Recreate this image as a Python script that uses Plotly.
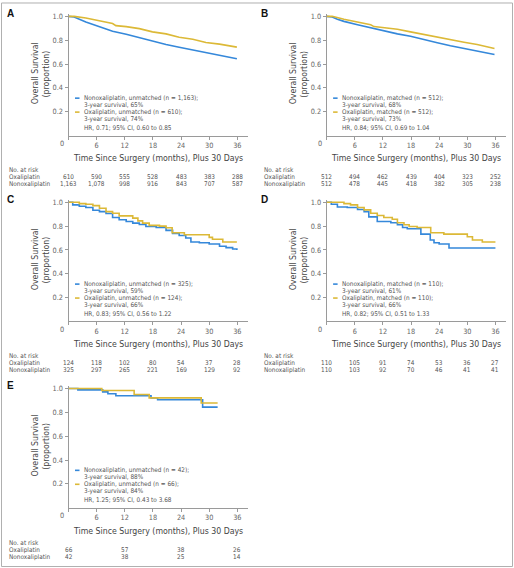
import plotly.graph_objects as go

W, H = 514, 568
NARROW = "DejaVu Sans Condensed, Liberation Sans, Arial, sans-serif"
BOLD = "Liberation Sans, Arial, sans-serif"
BLUE = "#3588da"
GOLD = "#dcb937"
AXIS_COL = "#9a9a9a"

# ---------------- data ----------------
panel_letters = ["A", "B", "C", "D", "E"]

a_nonox_m = [0, 1.2, 3.7, 6.6, 9.4, 12.3, 15.1, 17.9, 20.8, 23.6, 26.5, 29.3, 32.2, 35.9]
a_nonox_s = [1.0, 0.995, 0.953, 0.911, 0.875, 0.85, 0.82, 0.79, 0.764, 0.74, 0.717, 0.695, 0.672, 0.644]
a_oxa_m = [0, 1.2, 3.7, 6.6, 9.4, 10.1, 12.3, 15.1, 17.9, 20.8, 23.6, 26.5, 29.3, 32.2, 35.9]
a_oxa_s = [1.0, 1.0, 0.986, 0.961, 0.94, 0.922, 0.914, 0.897, 0.87, 0.853, 0.825, 0.808, 0.78, 0.767, 0.742]

b_nonox_m = [0, 1.2, 2.3, 3.7, 6.6, 9.4, 12.2, 15.1, 17.9, 20.8, 23.6, 26.4, 29.3, 32.1, 35.8]
b_nonox_s = [1.0, 0.995, 0.975, 0.958, 0.93, 0.903, 0.875, 0.853, 0.833, 0.803, 0.778, 0.753, 0.73, 0.714, 0.68]
b_oxa_m = [0, 1.2, 3.7, 6.6, 9.4, 10.1, 12.2, 15.1, 17.9, 20.8, 23.6, 26.4, 29.3, 32.1, 35.8]
b_oxa_s = [1.0, 1.0, 0.975, 0.953, 0.93, 0.914, 0.906, 0.892, 0.87, 0.847, 0.828, 0.808, 0.783, 0.764, 0.73]

c_nonox_m = [0, 0.9, 2.3, 3.7, 5.2, 6.6, 8.0, 9.4, 10.8, 12.3, 13.7, 15.1, 16.5, 18.7, 20.8, 22.2,
             23.6, 25.0, 26.1, 27.9, 30.0, 32.2, 33.6, 35.0, 35.9]
c_nonox_s = [1.0, 0.978, 0.967, 0.956, 0.933, 0.922, 0.906, 0.872, 0.853, 0.839, 0.825, 0.814, 0.797, 0.789,
             0.764, 0.739, 0.722, 0.7, 0.667, 0.661, 0.65, 0.631, 0.62, 0.608, 0.6]
c_oxa_m = [0, 2.3, 3.7, 5.2, 6.6, 8.0, 9.4, 10.8, 13.7, 14.8, 15.8, 17.2, 19.4, 20.8, 22.1, 24.7,
           30.0, 30.7, 32.9, 35.9]
c_oxa_s = [1.0, 0.989, 0.983, 0.972, 0.95, 0.922, 0.908, 0.886, 0.867, 0.844, 0.825, 0.806, 0.8, 0.786,
           0.744, 0.728, 0.706, 0.69, 0.667, 0.667]

d_nonox_m = [0, 1.0, 2.3, 4.4, 6.6, 8.0, 9.0, 10.8, 13.7, 15.1, 16.2, 17.2, 20.1, 22.1, 22.9, 24.0, 26.1, 36.0]
d_nonox_s = [1.0, 0.983, 0.961, 0.956, 0.939, 0.922, 0.878, 0.839, 0.828, 0.811, 0.789, 0.778, 0.733,
             0.683, 0.661, 0.65, 0.617, 0.617]
d_oxa_m = [0, 3.7, 5.1, 6.6, 8.0, 9.4, 10.8, 12.2, 14.0, 15.1, 16.5, 17.6, 19.3, 22.2, 25.0, 30.0, 31.1, 33.2, 36.0]
d_oxa_s = [1.0, 0.989, 0.978, 0.956, 0.936, 0.908, 0.889, 0.872, 0.858, 0.828, 0.811, 0.797, 0.789,
           0.744, 0.733, 0.711, 0.683, 0.667, 0.667]

e_nonox_m = [0, 2.0, 7.3, 8.4, 10.1, 17.6, 19.0, 28.6, 31.8]
e_nonox_s = [1.0, 0.989, 0.972, 0.956, 0.939, 0.922, 0.906, 0.844, 0.844]
e_oxa_m = [0, 7.1, 14.0, 17.2, 28.3, 31.8]
e_oxa_s = [1.0, 0.983, 0.95, 0.922, 0.878, 0.878]

legend_texts = [
    ["Nonoxaliplatin, unmatched (n = 1,163);", "3-year survival, 65%", "Oxaliplatin, unmatched (n = 610);",
     "3-year survival, 74%", "HR, 0.71; 95% CI, 0.60 to 0.85"],
    ["Nonoxaliplatin, matched (n = 512);", "3-year survival, 68%", "Oxaliplatin, matched (n = 512);",
     "3-year survival, 73%", "HR, 0.84; 95% CI, 0.69 to 1.04"],
    ["Nonoxaliplatin, unmatched (n = 325);", "3-year survival, 59%", "Oxaliplatin, unmatched (n = 124);",
     "3-year survival, 66%", "HR, 0.83; 95% CI, 0.56 to 1.22"],
    ["Nonoxaliplatin, matched (n = 110);", "3-year survival, 61%", "Oxaliplatin, matched (n = 110);",
     "3-year survival, 66%", "HR, 0.82; 95% CI, 0.51 to 1.33"],
    ["Nonoxaliplatin, unmatched (n = 42);", "3-year survival, 88%", "Oxaliplatin, unmatched (n = 66);",
     "3-year survival, 84%", "HR, 1.25; 95% CI, 0.43 to 3.68"],
]

risk_times = [
    [0, 6, 12, 18, 24, 30, 36],
    [0, 6, 12, 18, 24, 30, 36],
    [0, 6, 12, 18, 24, 30, 36],
    [0, 6, 12, 18, 24, 30, 36],
    [0, 12, 24, 36],
]
risk_oxa = [
    ["610", "590", "555", "528", "483", "383", "288"],
    ["512", "494", "462", "439", "404", "323", "252"],
    ["124", "118", "102", "80", "54", "37", "28"],
    ["110", "105", "91", "74", "53", "36", "27"],
    ["66", "57", "38", "26"],
]
risk_nonox = [
    ["1,163", "1,078", "998", "916", "843", "707", "587"],
    ["512", "478", "445", "418", "382", "305", "238"],
    ["325", "297", "265", "221", "169", "129", "92"],
    ["110", "103", "92", "70", "46", "41", "41"],
    ["42", "38", "25", "14"],
]

x_ticks = [0, 6, 12, 18, 24, 30, 36]
y_ticks = [0.2, 0.4, 0.6, 0.8, 1.0]
y_ticktext = ["0.2", "0.4", "0.6", "0.8", "1.0"]
x_title = "Time Since Surgery (months), Plus 30 Days"
y_title_1 = "Overall Survival"
y_title_2 = "(proportion)"
risk_labels = ["No. at risk", "Oxaliplatin", "Nonoxaliplatin"]

curves = [
    (a_nonox_m, a_nonox_s, a_oxa_m, a_oxa_s, "linear"),
    (b_nonox_m, b_nonox_s, b_oxa_m, b_oxa_s, "linear"),
    (c_nonox_m, c_nonox_s, c_oxa_m, c_oxa_s, "hv"),
    (d_nonox_m, d_nonox_s, d_oxa_m, d_oxa_s, "hv"),
    (e_nonox_m, e_nonox_s, e_oxa_m, e_oxa_s, "hv"),
]

# ---------------- geometry (pixels) ----------------
origins = [(68.5, 134.0), (326.6, 134.0), (68.5, 320.6), (326.6, 320.6), (68.5, 507.5)]
XPX = 4.69     # px per month
YPX = 119.6    # px per unit survival
XMAX = 38.3
YMAX = 1.02
left_text_x = [6.5, 262.0, 6.5, 262.0, 6.5]
letter_pos = [(10.7, 11.7), (264, 12), (10.3, 198.3), (264, 198.3), (10.3, 385)]

TICK_SIZE = 7.3
TITLE_SIZE = 8.7
SMALL_SIZE = 6.4


def fx(p):
    return p / W


def fy(p):
    return 1 - p / H


fig = go.Figure()
annotations = []
shapes = []
layout_axes = {}

for i in range(5):
    k = i + 1
    xs = "" if k == 1 else str(k)
    x0, y0 = origins[i]
    nm, ns, om, os_, shape = curves[i]
    fig.add_trace(go.Scatter(x=nm, y=ns, mode="lines", line=dict(color=BLUE, width=1.6, shape=shape),
                             xaxis="x" + xs, yaxis="y" + xs, showlegend=False, hoverinfo="skip"))
    fig.add_trace(go.Scatter(x=om, y=os_, mode="lines", line=dict(color=GOLD, width=1.6, shape=shape),
                             xaxis="x" + xs, yaxis="y" + xs, showlegend=False, hoverinfo="skip"))

    layout_axes["xaxis" + xs] = dict(
        domain=[fx(x0), fx(x0 + XMAX * XPX)], range=[0, XMAX], anchor="y" + xs,
        showline=True, linecolor=AXIS_COL, linewidth=1, ticks="outside", ticklen=3, tickcolor=AXIS_COL,
        tickvals=x_ticks, ticktext=[""] + [str(t) for t in x_ticks[1:]],
        tickfont=dict(family=NARROW, size=TICK_SIZE, color="#666"), showgrid=False, zeroline=False,
        fixedrange=True)
    layout_axes["yaxis" + xs] = dict(
        domain=[fy(y0), fy(y0 - YMAX * YPX)], range=[0, YMAX], anchor="x" + xs,
        showline=True, linecolor=AXIS_COL, linewidth=1, ticks="outside", ticklen=3, tickcolor=AXIS_COL,
        tickvals=y_ticks, ticktext=y_ticktext,
        tickfont=dict(family=NARROW, size=TICK_SIZE, color="#666"), showgrid=False, zeroline=False,
        fixedrange=True)

    # "0" corner label
    annotations.append(dict(x=fx(x0 - 7), y=fy(y0 + 7.7), xref="paper", yref="paper", text="0",
                            showarrow=False, xanchor="center", yanchor="middle",
                            font=dict(family=NARROW, size=TICK_SIZE, color="#666")))
    # axis titles
    xc = x0 + XMAX * XPX / 2
    annotations.append(dict(x=fx(xc), y=fy(y0 + 23), xref="paper", yref="paper", text=x_title,
                            showarrow=False, xanchor="center", yanchor="middle",
                            font=dict(family=NARROW, size=TITLE_SIZE, color="#444")))
    annotations.append(dict(x=fx(x0 - 34), y=fy(y0 - 62), xref="paper", yref="paper", text=y_title_1,
                            showarrow=False, textangle=-90, xanchor="center", yanchor="middle",
                            font=dict(family=NARROW, size=TITLE_SIZE, color="#444")))
    annotations.append(dict(x=fx(x0 - 22.7), y=fy(y0 - 62), xref="paper", yref="paper", text=y_title_2,
                            showarrow=False, textangle=-90, xanchor="center", yanchor="middle",
                            font=dict(family=NARROW, size=TITLE_SIZE, color="#444")))
    # panel letter
    lx, ly = letter_pos[i]
    annotations.append(dict(x=fx(lx), y=fy(ly), xref="paper", yref="paper", text="<b>%s</b>" % panel_letters[i],
                            showarrow=False, xanchor="center", yanchor="middle",
                            font=dict(family=BOLD, size=10, color="#111")))
    # legend block
    leg_dy = [37.5, 30.5, 23.5, 16.5, 7.5]
    for t, dy in zip(legend_texts[i], leg_dy):
        annotations.append(dict(x=fx(x0 + 13), y=fy(y0 - dy), xref="paper", yref="paper", text=t,
                                showarrow=False, xanchor="left", yanchor="middle",
                                font=dict(family=NARROW, size=SMALL_SIZE, color="#555")))
    for col, dy in ((BLUE, leg_dy[0]), (GOLD, leg_dy[2])):
        shapes.append(dict(type="line", xref="paper", yref="paper", x0=fx(x0 + 6.5), x1=fx(x0 + 11),
                           y0=fy(y0 - dy), y1=fy(y0 - dy), line=dict(color=col, width=1.6)))
    # risk table
    lt = left_text_x[i]
    for lab, dy in zip(risk_labels, (35, 42, 49)):
        annotations.append(dict(x=fx(lt), y=fy(y0 + dy), xref="paper", yref="paper", text=lab,
                                showarrow=False, xanchor="left", yanchor="middle",
                                font=dict(family=NARROW, size=SMALL_SIZE, color="#555")))
    for row, dy in ((risk_oxa[i], 42), (risk_nonox[i], 49)):
        for t, v in zip(risk_times[i], row):
            annotations.append(dict(x=fx(x0 + t * XPX), y=fy(y0 + dy), xref="paper", yref="paper", text=v,
                                    showarrow=False, xanchor="center", yanchor="middle",
                                    font=dict(family=NARROW, size=SMALL_SIZE, color="#555")))

# outer frame
shapes.append(dict(type="rect", xref="paper", yref="paper", x0=fx(1.5), x1=fx(512.5), y0=fy(566.5), y1=fy(1.0),
                   line=dict(color="#b0b0b0", width=1)))

fig.update_layout(
    width=W, height=H, margin=dict(l=0, r=0, t=0, b=0),
    paper_bgcolor="white", plot_bgcolor="white",
    annotations=annotations, shapes=shapes, showlegend=False,
    **layout_axes,
)

fig.write_html("out.html", config={"displayModeBar": False},
               post_script="document.body.style.margin='0';document.body.style.overflow='hidden';")
